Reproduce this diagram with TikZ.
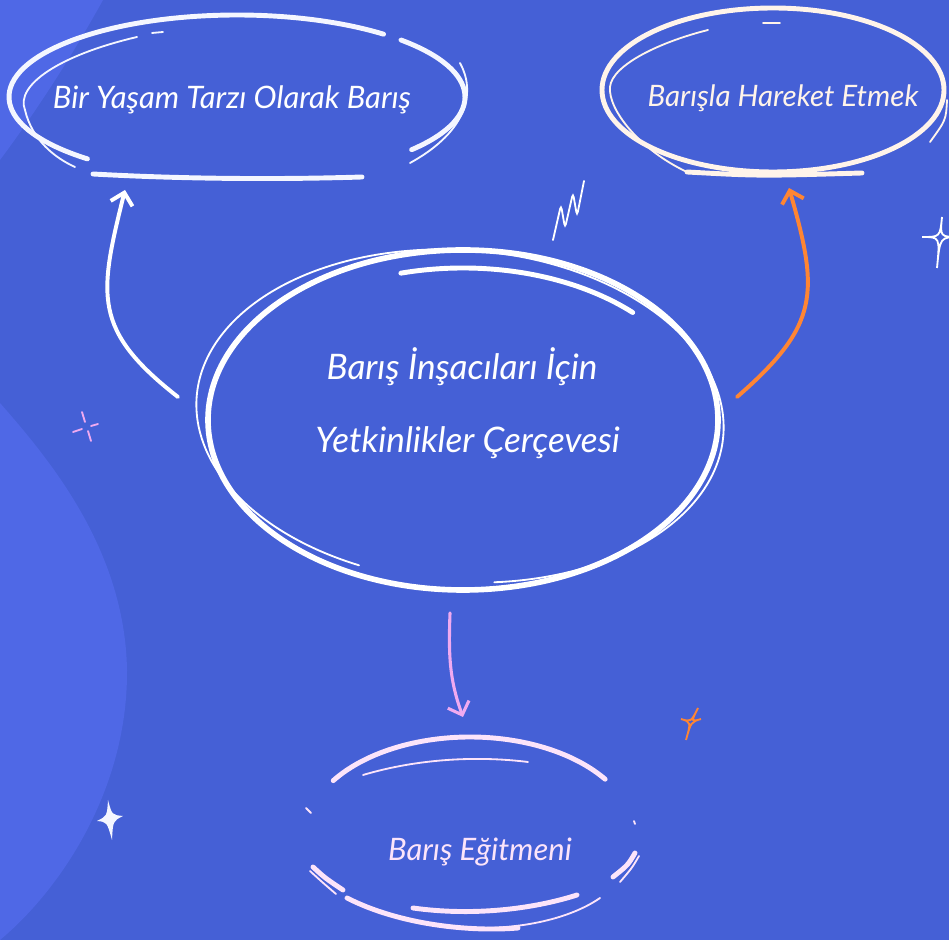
\documentclass[tikz,border=0pt]{standalone}
\usepackage{fontspec}
\setmainfont{Lato}
\usepackage{tikz}
\usetikzlibrary{arrows.meta}
\definecolor{bgblue}{RGB}{69,96,214}
\definecolor{lightblue}{RGB}{79,104,230}
\definecolor{chalk}{RGB}{244,246,255}
\definecolor{cream}{RGB}{255,244,234}
\definecolor{blush}{RGB}{252,228,250}
\definecolor{carrot}{RGB}{255,133,51}
\definecolor{lilac}{RGB}{240,170,240}

\begin{document}
\begin{tikzpicture}[x=0.025cm,y=0.025cm,
  hand/.style={text=white, font=\itshape\fontsize{22}{52}\selectfont, inner sep=0pt},
  fat/.style={line width=3.5pt, line cap=round},
  slim/.style={line width=1.3pt, line cap=round},
  link/.style={line width=2.8pt, line cap=round, -{Straight Barb[length=8pt,width=16pt]}}]
\useasboundingbox (0,0) rectangle (949,940);
\fill[bgblue] (0,0) rectangle (949,940);
\fill[lightblue] (0,537) .. controls (50,480) and (125,390) .. (127,270) .. controls (128,150) and (60,50) .. (0,0) -- cycle;
\fill[lightblue] (0,940) -- (103,940) .. controls (70,880) and (30,820) .. (0,780) -- cycle;

% texts
\node[hand] (life) at (232,840) {Bir Yaşam Tarzı Olarak Barış};
\node[hand, text=cream, font=\itshape\fontsize{21}{52}\selectfont] (act) at (783,842) {Barışla Hareket Etmek};
\node[hand, align=center, font=\itshape\fontsize{25}{52}\selectfont] (frame) at (462,537) {Barış İnşacıları İçin\\\hspace*{8pt}Yetkinlikler Çerçevesi};
\node[hand, text=blush] (edu) at (480,88) {Barış Eğitmeni};

% life ring
\draw[fat, chalk] (237,843) ++(229:228 and 82) arc[start angle=229, end angle=50, x radius=228, y radius=82];
\draw[fat, chalk] (237,843) ++(44:228 and 82) arc[start angle=44, end angle=-40, x radius=228, y radius=82];
\draw[fat, chalk] (93,766) .. controls (200,760) and (300,761) .. (362,763);
\draw[slim, chalk] (137,903) .. controls (60,885) and (15,855) .. (25,830) .. controls (32,800) and (55,782) .. (75,773);
\draw[slim, chalk] (460,877) .. controls (475,850) and (470,810) .. (410,777);
\draw[slim, chalk] (152,907) -- (163,908);

% act ring
\draw[fat, cream] (773,850) ellipse [x radius=171, y radius=82];
\draw[slim, cream] (708,910) .. controls (660,898) and (612,875) .. (610,853) .. controls (608,830) and (640,790) .. (687,768);
\draw[slim, cream] (947,840) .. controls (946,820) .. (930,798);
\draw[fat, cream] (687,768) .. controls (760,764) .. (862,767);
\draw[slim, cream] (763,917) -- (780,917);
\draw[slim, cream] (685,920) -- (693,921);

% frame ring
\draw[line width=4pt, white] (463,520) ellipse [x radius=255, y radius=170];
\draw[slim, white, rotate around={-4:(460,524)}] (460,524) ++(280:264 and 166) arc[start angle=280, end angle=610, x radius=264, y radius=166];
\draw[fat, white] (463,520) ++(105:240 and 152) arc[start angle=105, end angle=45, x radius=240, y radius=152];

% edu ring
\draw[fat, blush] (470,104) ++(146:165 and 99) arc[start angle=146, end angle=35, x radius=165, y radius=99];
\draw[slim, blush] (363,165) .. controls (420,182) and (480,184) .. (528,178);
\draw[slim, blush] (306,132) -- (311,127);
\draw[slim, blush] (634,119) -- (635,116);
\draw[fat, blush] (313,73) .. controls (325,62) .. (343,50);
\draw[slim, blush] (310,69) .. controls (322,58) .. (336,46);
\draw[fat, blush] (635,87) .. controls (628,75) .. (613,63);
\draw[slim, blush] (639,84) .. controls (632,72) .. (620,58);
\draw[fat, blush] (347,42) .. controls (400,15) and (470,8) .. (518,12);
\draw[fat, blush] (413,32) .. controls (470,24) and (530,30) .. (577,45);
\draw[slim, blush] (480,12) .. controls (540,12) and (580,28) .. (600,42);

% connectors
\draw[link, white] ([shift={(-284,6)}]frame.center) to[out=142, in=256, looseness=1.3] ([shift={(-107,-90)}]life.center);
\draw[link, carrot] ([shift={(275,6)}]frame.center) to[out=41, in=286, looseness=1.3] ([shift={(6,-90)}]act.center);
\draw[link, lilac, line width=2.2pt] ([shift={(-12,-210)}]frame.center) to[out=268, in=110] ([shift={(-17,135)}]edu.center);

% sparkles
\draw[slim, white, rounded corners=3pt] (553,700) -- (561,735) -- (565,712) -- (573,747) -- (577,724) -- (584,759);
\draw[slim, white] (942,723) .. controls (940,703) .. (960,703) .. controls (940,703) .. (937,672) .. controls (940,703) .. (922,703) .. controls (940,703) .. cycle;
\draw[slim, carrot] (698,232) .. controls (691,218) .. (701,221) .. controls (691,218) .. (686,200) .. controls (691,218) .. (681,221) .. controls (691,218) .. cycle;
\fill[chalk] (108,140) .. controls (112,125) .. (123,124) .. controls (113,119) .. (112,100) .. controls (107,118) .. (97,119) .. controls (107,124) .. cycle;
\draw[slim, lilac] (82,528) -- (85,518);
\draw[slim, lilac] (88,509) -- (91,499);
\draw[slim, lilac] (73,508) -- (82,511);
\draw[slim, lilac] (91,514) -- (98,516);
\end{tikzpicture}
\end{document}
